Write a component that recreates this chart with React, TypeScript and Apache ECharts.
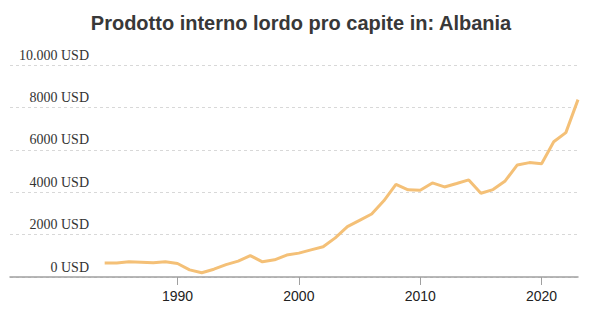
import React, { useEffect, useRef } from "react";
import * as echarts from "echarts";

const years = [
  1984, 1985, 1986, 1987, 1988, 1989, 1990, 1991, 1992, 1993,
  1994, 1995, 1996, 1997, 1998, 1999, 2000, 2001, 2002, 2003,
  2004, 2005, 2006, 2007, 2008, 2009, 2010, 2011, 2012, 2013,
  2014, 2015, 2016, 2017, 2018, 2019, 2020, 2021, 2022, 2023,
];
const gdpPerCapita = [
  662, 662, 719, 699, 676, 723, 639, 337, 200, 367,
  586, 751, 1010, 717, 810, 1033, 1126, 1281, 1425, 1846,
  2373, 2674, 2973, 3595, 4370, 4114, 4094, 4437, 4248, 4413,
  4579, 3953, 4124, 4531, 5287, 5396, 5343, 6377, 6810, 8367,
];
const xTickYears = [1990, 2000, 2010, 2020];
const titleText = "Prodotto interno lordo pro capite in: Albania";

export default function App() {
  const ref = useRef<HTMLDivElement>(null);
  useEffect(() => {
    if (!ref.current) return;
    const chart = echarts.init(ref.current, null, { renderer: "svg" });
    chart.setOption({
      animation: false,
      title: {
        text: titleText,
        left: "center",
        top: 8,
        textStyle: {
          fontFamily: "Liberation Sans, Arial, sans-serif",
          fontSize: 20,
          fontWeight: "bold",
          color: "#383838",
        },
      },
      grid: { left: 10, right: 24, top: 65, bottom: 48, containLabel: false },
      xAxis: {
        type: "value",
        min: 1976.2,
        max: 2023,
        splitLine: { show: false },
        axisLine: { show: true, lineStyle: { color: "#a0a0a0", width: 1.5 } },
        axisTick: {
          show: true,
          length: 8,
          customValues: xTickYears,
          lineStyle: { color: "#a0a0a0", width: 1 },
        },
        axisLabel: {
          customValues: xTickYears,
          margin: 12,
          fontFamily: "Liberation Sans, Arial, sans-serif",
          fontSize: 14,
          color: "#222222",
          formatter: (v: number) => String(v),
        },
      },
      yAxis: {
        type: "value",
        min: 0,
        max: 10000,
        interval: 2000,
        axisLine: { show: false },
        axisTick: { show: false },
        splitLine: { show: true, lineStyle: { color: "#d8d8d8", type: [3, 3], width: 1 } },
        axisLabel: {
          inside: true,
          margin: 79,
          align: "right",
          verticalAlign: "bottom",
          lineHeight: 20,
          fontFamily: "Liberation Serif, Times New Roman, serif",
          fontSize: 14,
          color: "#333333",
          formatter: (v: number) =>
            (v >= 10000 ? v.toLocaleString("de-DE") : String(v)) + " USD",
        },
      },
      series: [
        {
          type: "line",
          data: years.map((y, i) => [y, gdpPerCapita[i]]),
          showSymbol: false,
          lineStyle: { color: "#f4c077", width: 3 },
          itemStyle: { color: "#f4c077" },
        },
      ],
    });
    return () => chart.dispose();
  }, []);
  return <div ref={ref} style={{ width: 602, height: 325, position: "absolute", left: 0, top: 0 }} />;
}
